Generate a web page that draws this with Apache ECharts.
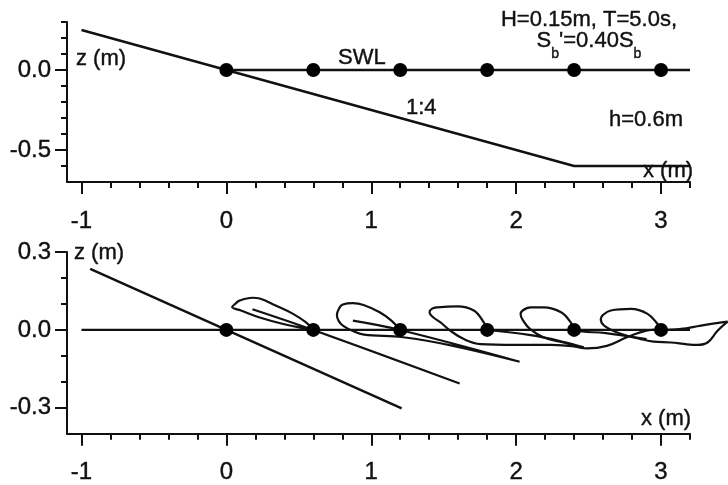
<!DOCTYPE html>
<html>
<head>
<meta charset="utf-8">
<script src="https://cdn.jsdelivr.net/npm/echarts@6/dist/echarts.min.js"></script>
<style>
html,body{margin:0;padding:0;background:#fff;}
#c{width:728px;height:485px;}
</style>
</head>
<body>
<div id="c"></div>
<script>
// ---------- data ----------
const xMajorTicks = [-1, 0, 1, 2, 3];
const xMinorTicks = [-1, -0.8, -0.6, -0.4, -0.2, 0, 0.2, 0.4, 0.6, 0.8, 1, 1.2, 1.4, 1.6, 1.8, 2, 2.2, 2.4, 2.6, 2.8, 3, 3.2];
const topYMajorTicks = [0, -0.5];
const topYMinorTicks = [0.3, 0.2, 0.1, 0, -0.1, -0.2, -0.3, -0.4, -0.5, -0.6];
const botYMajorTicks = [0.3, 0, -0.3];
const botYMinorTicks = [0.2, 0.1, -0.1, -0.2];

const dotsX = [0, 0.6, 1.2, 1.8, 2.4, 3.0];
const dotsZ = [0, 0, 0, 0, 0, 0];

// top panel: bed profile and still water level
const bedX = [-1, 2.4, 3.2];
const bedZ = [0.25, -0.6, -0.6];
const topSwlX = [0, 3.2];
const topSwlZ = [0, 0];

// bottom panel
const botSlopeX = [-0.94, 1.21];
const botSlopeZ = [0.235, -0.302];
const botSwlX = [-1, 3.2];
const botSwlZ = [0, 0];

// particle trajectories
const trajAX = [0.18, 0.60, 1.61, 0.60, 0.55, 0.40, 0.23, 0.10, 0.04, 0.06, 0.09, 0.18, 0.23, 0.34, 0.46, 0.55, 0.60];
const trajAZ = [0.080, 0.0, -0.206, 0.0, 0.005, 0.022, 0.048, 0.075, 0.088, 0.100, 0.113, 0.124, 0.121, 0.094, 0.062, 0.029, 0.0];

const trajBX = [0.873, 1.20, 2.024, 1.565, 1.22, 0.95, 0.873, 0.804, 0.775, 0.763, 0.78, 0.804, 0.873, 0.947, 1.058, 1.139, 1.20];
const trajBZ = [0.036, 0.0, -0.122, -0.061, -0.028, -0.018, -0.004, 0.017, 0.035, 0.058, 0.085, 0.098, 0.103, 0.096, 0.068, 0.036, 0.0];

const trajCX = [1.80, 2.10, 2.33, 2.467, 2.24, 1.985, 1.754, 1.639, 1.547, 1.478, 1.425, 1.402, 1.42, 1.455, 1.593, 1.708, 1.777, 1.80];
const trajCZ = [0.0, -0.020, -0.046, -0.067, -0.057, -0.057, -0.054, -0.035, -0.003, 0.029, 0.050, 0.068, 0.082, 0.087, 0.091, 0.075, 0.029, 0.0];

const trajDX = [2.90, 2.62, 2.40, 2.377, 2.31, 2.19, 2.10, 2.045, 2.031, 2.05, 2.095, 2.188, 2.326, 2.488, 2.626, 2.764, 2.856, 2.95];
const trajDZ = [-0.035, -0.012, 0.0, 0.029, 0.068, 0.087, 0.087, 0.075, 0.060, 0.035, 0.004, -0.028, -0.048, -0.071, -0.061, -0.028, -0.009, 0.002];

const trajEX = [3.00, 2.976, 2.907, 2.792, 2.653, 2.60, 2.584, 2.607, 2.722, 2.861, 2.95, 3.068, 3.18, 3.252, 3.321, 3.39, 3.46, 3.276, 3.138, 3.00];
const trajEZ = [0.0, 0.023, 0.062, 0.081, 0.075, 0.058, 0.042, 0.017, -0.015, -0.035, -0.045, -0.048, -0.055, -0.057, -0.048, -0.003, 0.032, 0.017, 0.004, 0.0];

// ---------- chart ----------
const INK = '#111';
const FONT = '"Liberation Sans", Arial, sans-serif';
const zip = (xs, zs) => xs.map((x, i) => [x, zs[i]]);

const X_MIN = -1.1, X_MAX = 3.2;
const PLOT_LEFT = 67, PLOT_W = 623, WIDE_W = 661;
// wide (axis-less) grid sharing the same x scale, so trajectories may run past x = 3.2
const X_MAX_WIDE = X_MIN + (X_MAX - X_MIN) * WIDE_W / PLOT_W;

const labelStyle = {color: INK, fontSize: 24, fontFamily: FONT, textBorderColor: INK, textBorderWidth: 0.4};

function xAxes(grid) {
  return [
    {
      gridIndex: grid, type: 'value', min: X_MIN, max: X_MAX, position: 'bottom',
      axisLine: {show: true, onZero: false, lineStyle: {color: INK, width: 2}},
      axisTick: {show: true, customValues: xMajorTicks, length: 12, lineStyle: {color: INK, width: 2}},
      axisLabel: Object.assign({show: true, customValues: xMajorTicks, margin: 27,
                  formatter: v => String(Math.round(v))}, labelStyle),
      splitLine: {show: false}
    },
    {
      gridIndex: grid, type: 'value', min: X_MIN, max: X_MAX, position: 'bottom',
      axisLine: {show: false, onZero: false},
      axisTick: {show: true, customValues: xMinorTicks, length: 6, lineStyle: {color: INK, width: 2}},
      axisLabel: {show: false},
      splitLine: {show: false}
    }
  ];
}
function yAxes(grid, min, max, major, minor) {
  return [
    {
      gridIndex: grid, type: 'value', min: min, max: max, position: 'left',
      axisLine: {show: true, onZero: false, lineStyle: {color: INK, width: 2}},
      axisTick: {show: true, customValues: major, length: 12, lineStyle: {color: INK, width: 2}},
      axisLabel: Object.assign({show: true, customValues: major, margin: 16,
                  formatter: v => (Math.abs(v) < 1e-9 ? 0 : v).toFixed(1)}, labelStyle),
      splitLine: {show: false}
    },
    {
      gridIndex: grid, type: 'value', min: min, max: max, position: 'left',
      axisLine: {show: false, onZero: false},
      axisTick: {show: true, customValues: minor, length: 6, lineStyle: {color: INK, width: 2}},
      axisLabel: {show: false},
      splitLine: {show: false}
    }
  ];
}
const hiddenX = {gridIndex: 2, type: 'value', min: X_MIN, max: X_MAX_WIDE, show: false, splitLine: {show: false}};
const hiddenY = {gridIndex: 2, type: 'value', min: -0.4, max: 0.3, show: false, splitLine: {show: false}};

function line(xi, yi, data, w, smooth) {
  return {
    type: 'line', xAxisIndex: xi, yAxisIndex: yi, data: data,
    symbol: 'none', showSymbol: false, clip: false, silent: true, smooth: smooth || false,
    lineStyle: {color: INK, width: w || 2.4}, z: 2
  };
}
function dots(xi, yi) {
  return {
    type: 'scatter', xAxisIndex: xi, yAxisIndex: yi, data: zip(dotsX, dotsZ),
    symbol: 'circle', symbolSize: 14, itemStyle: {color: '#000', opacity: 1}, z: 5, clip: false, silent: true
  };
}

function txt(x, y, text, size, align) {
  return {
    type: 'text', x: x, y: y, z: 10,
    style: {text: text, fill: INK, font: (size || 22) + 'px ' + FONT, align: align || 'left', verticalAlign: 'middle',
            stroke: INK, lineWidth: 0.4}
  };
}

const option = {
  animation: false,
  backgroundColor: '#fff',
  grid: [
    {left: PLOT_LEFT, top: 22, width: PLOT_W, height: 160},
    {left: PLOT_LEFT, top: 252, width: PLOT_W, height: 182},
    {left: PLOT_LEFT, top: 252, width: WIDE_W, height: 182}
  ],
  xAxis: [...xAxes(0), ...xAxes(1), hiddenX],
  yAxis: [...yAxes(0, -0.7, 0.3, topYMajorTicks, topYMinorTicks), ...yAxes(1, -0.4, 0.3, botYMajorTicks, botYMinorTicks), hiddenY],
  series: [
    line(0, 0, zip(bedX, bedZ)),
    line(0, 0, zip(topSwlX, topSwlZ)),
    dots(0, 0),
    line(2, 2, zip(botSwlX, botSwlZ)),
    line(2, 2, zip(botSlopeX, botSlopeZ)),
    line(4, 4, zip(trajAX, trajAZ), 2.2, 0.4),
    line(4, 4, zip(trajBX, trajBZ), 2.2, 0.4),
    line(4, 4, zip(trajCX, trajCZ), 2.2, 0.4),
    line(4, 4, zip(trajDX, trajDZ), 2.2, 0.4),
    line(4, 4, zip(trajEX, trajEZ), 2.2, 0.4),
    dots(2, 2)
  ],
  graphic: [
    txt(76, 59, 'z (m)'),
    txt(338, 58, 'SWL'),
    txt(406, 108, '1:4'),
    txt(609, 120, 'h=0.6m'),
    txt(589, 20, 'H=0.15m, T=5.0s,', 22, 'center'),
    {
      type: 'text', x: 589, y: 41, z: 10,
      style: {
        text: "S{s|b}'=0.40S{s|b}", fill: INK, font: '22px ' + FONT, align: 'center', verticalAlign: 'middle',
        lineHeight: 40, stroke: INK, lineWidth: 0.4,
        rich: {s: {fontSize: 14, fontFamily: FONT, lineHeight: 14, verticalAlign: 'bottom', fill: INK}}
      }
    },
    txt(643, 171, 'x (m)'),
    txt(74, 253, 'z (m)'),
    txt(641, 419, 'x (m)')
  ]
};

const chart = echarts.init(document.getElementById('c'), null, {renderer: 'canvas'});
chart.setOption(option);
</script>
</body>
</html>
